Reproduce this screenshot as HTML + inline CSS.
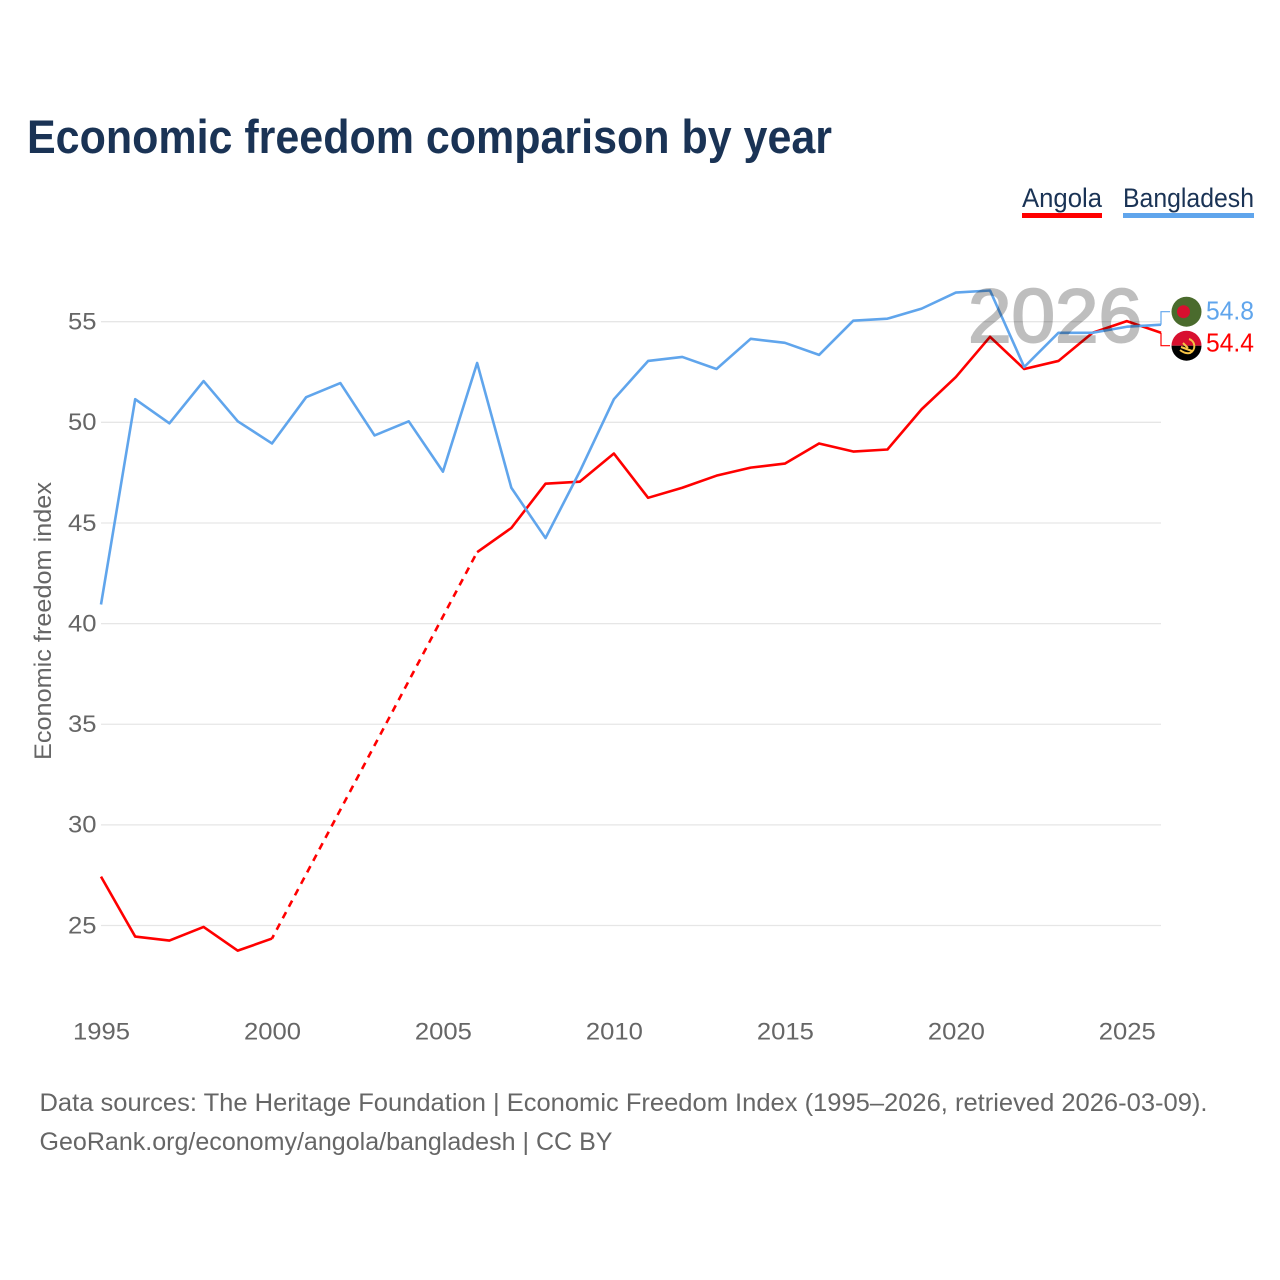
<!DOCTYPE html>
<html lang="en">
<head>
<meta charset="utf-8">
<title>Economic freedom comparison by year</title>
<style>
html,body{margin:0;padding:0;background:#fff}
svg{display:block}
text{font-family:"Liberation Sans",sans-serif}
</style>
</head>
<body>
<svg id="chart" xmlns="http://www.w3.org/2000/svg" width="1280" height="1280" viewBox="0 0 1280 1280">
  <rect x="0" y="0" width="1280" height="1280" fill="#ffffff"/>
  <text x="27" y="153" font-size="47" font-weight="700" fill="#1a3355" textLength="805" lengthAdjust="spacingAndGlyphs">Economic freedom comparison by year</text>

  <g>
    <g>
      <text x="1022" y="207" font-size="26.5" fill="#1a3355" textLength="80" lengthAdjust="spacingAndGlyphs">Angola</text>
      <rect x="1022" y="213" width="80" height="5" fill="#ff0000"/>
    </g>
    <g>
      <text x="1123" y="207" font-size="26.5" fill="#1a3355" textLength="131" lengthAdjust="spacingAndGlyphs">Bangladesh</text>
      <rect x="1123" y="213" width="131" height="5" fill="#60a5ec"/>
    </g>
  </g>

  <g id="grid"></g>
  <g id="yticks"></g>
  <g id="xticks"></g>
  <text transform="translate(51,760) rotate(-90)" font-size="24" fill="#666666" textLength="278" lengthAdjust="spacingAndGlyphs">Economic freedom index</text>

  <g id="series"></g>

  <text x="968" y="342" font-size="76" font-weight="400" fill="#000000" stroke="#000000" stroke-width="2" opacity="0.25" textLength="174" lengthAdjust="spacingAndGlyphs">2026</text>

  <g id="ends"></g>

  <defs>
    <clipPath id="clip-bd"><circle cx="1186.5" cy="311.7" r="15"/></clipPath>
    <clipPath id="clip-ao"><circle cx="1186.5" cy="345.7" r="15"/></clipPath>
  </defs>
  <g clip-path="url(#clip-bd)">
    <rect x="1170" y="295" width="34" height="34" fill="#4a6b2d"/>
    <circle cx="1183.5" cy="311.7" r="6.5" fill="#d8102f"/>
  </g>
  <g clip-path="url(#clip-ao)">
    <rect x="1170" y="330" width="34" height="15.7" fill="#d8102f"/>
    <rect x="1170" y="345.7" width="34" height="16" fill="#000000"/>
    <path d="M1189 339 A7.5 7.5 0 0 1 1190 353 Q1185 354 1180 350 M1181 347 L1192 351 M1183 343 L1188 348" fill="none" stroke="#f6c445" stroke-width="2"/>
  </g>

  <g>
    <text x="39.5" y="1111" font-size="25" fill="#666666" textLength="1168" lengthAdjust="spacingAndGlyphs">Data sources: The Heritage Foundation | Economic Freedom Index (1995–2026, retrieved 2026-03-09).</text>
    <text x="39.5" y="1150" font-size="25" fill="#666666" textLength="573" lengthAdjust="spacingAndGlyphs">GeoRank.org/economy/angola/bangladesh | CC BY</text>
  </g>
</svg>
<script>
var years = [1995,1996,1997,1998,1999,2000,2001,2002,2003,2004,2005,2006,2007,2008,2009,2010,2011,2012,2013,2014,2015,2016,2017,2018,2019,2020,2021,2022,2023,2024,2025,2026];
var angolaValues = [27.43,24.45,24.25,24.93,23.75,24.35,null,null,null,null,null,43.55,44.75,46.95,47.05,48.45,46.25,46.75,47.35,47.75,47.95,48.95,48.55,48.65,50.65,52.25,54.25,52.65,53.05,54.45,55.03,54.45];
var bangladeshValues = [40.95,51.15,49.95,52.05,50.05,48.95,51.25,51.95,49.35,50.05,47.55,52.95,46.75,44.25,47.55,51.15,53.05,53.25,52.65,54.15,53.95,53.35,55.05,55.15,55.65,56.45,56.55,52.75,54.45,54.45,54.75,54.85];
var yTickValues = [25,30,35,40,45,50,55];
var xTickValues = [1995,2000,2005,2010,2015,2020,2025];
var angolaEndLabel = "54.4";
var bangladeshEndLabel = "54.8";

var NS = "http://www.w3.org/2000/svg";
var plotLeft = 101, plotRight = 1161;
var yearMin = 1995, yearMax = 2026;
var y55px = 321.7, y25px = 925.5;

function xScale(year) {
  return plotLeft + (year - yearMin) * (plotRight - plotLeft) / (yearMax - yearMin);
}
function yScale(value) {
  return y25px + (value - 25) * (y55px - y25px) / 30;
}
function make(tag, attrs, parent, content) {
  var el = document.createElementNS(NS, tag);
  for (var k in attrs) { el.setAttribute(k, attrs[k]); }
  if (content !== undefined) { el.textContent = content; }
  parent.appendChild(el);
  return el;
}

var grid = document.getElementById("grid");
var yticks = document.getElementById("yticks");
yTickValues.forEach(function (v) {
  var line = make("line", {x1: plotLeft, x2: plotRight, y1: yScale(v), y2: yScale(v), stroke: "#e6e6e6", "stroke-width": 1.3}, grid);
  
  
  var label = make("text", {x: 96.5, y: yScale(v) + 7.8, "text-anchor": "end", "font-size": 24.5, fill: "#666666", textLength: 28.5, lengthAdjust: "spacingAndGlyphs"}, yticks, String(v));
  
  
});

var xticks = document.getElementById("xticks");
xTickValues.forEach(function (yr) {
  var label = make("text", {x: xScale(yr) + 0.5, y: 1039.5, "text-anchor": "middle", "font-size": 24.5, fill: "#666666", textLength: 57, lengthAdjust: "spacingAndGlyphs"}, xticks, String(yr));
  
  
});

function drawSeries(values, color, key) {
  var group = make("g", {}, document.getElementById("series"));
  
  
  var solid = "", dashed = "", last = -1;
  values.forEach(function (v, i) {
    if (v === null) { return; }
    var pt = xScale(years[i]).toFixed(2) + " " + yScale(v).toFixed(2);
    if (last >= 0 && i - last > 1) {
      dashed += "M" + xScale(years[last]).toFixed(2) + " " + yScale(values[last]).toFixed(2) + "L" + pt;
      solid += "M" + pt;
    } else {
      solid += (last < 0 ? "M" : "L") + pt;
    }
    last = i;
  });
  var line = make("path", {d: solid, fill: "none", stroke: color, "stroke-width": 2.6, "stroke-linejoin": "round"}, group);
  
  
  if (dashed) {
    var gap = make("path", {d: dashed, fill: "none", stroke: color, "stroke-width": 2.6, "stroke-dasharray": "7 6", "stroke-dashoffset": "3"}, group);
    
    
  }
}
drawSeries(angolaValues, "#ff0000", "angola");
drawSeries(bangladeshValues, "#60a5ec", "bangladesh");

var ends = document.getElementById("ends");
function drawEnd(values, color, key, text, labelY, labelBaseline) {
  var endValue = values[values.length - 1];
  var c = make("path", {d: "M" + plotRight + " " + yScale(endValue).toFixed(2) + "V" + labelY + "H1170", fill: "none", stroke: color, "stroke-width": 1.2}, ends);
  
  
  var t = make("text", {x: 1206, y: labelBaseline, "font-size": 25.5, fill: color, textLength: 48, lengthAdjust: "spacingAndGlyphs"}, ends, text);
  
  
}
drawEnd(bangladeshValues, "#60a5ec", "bangladesh", bangladeshEndLabel, 311.7, 319.5);
drawEnd(angolaValues, "#ff0000", "angola", angolaEndLabel, 345.7, 351.5);
</script>
</body>
</html>
